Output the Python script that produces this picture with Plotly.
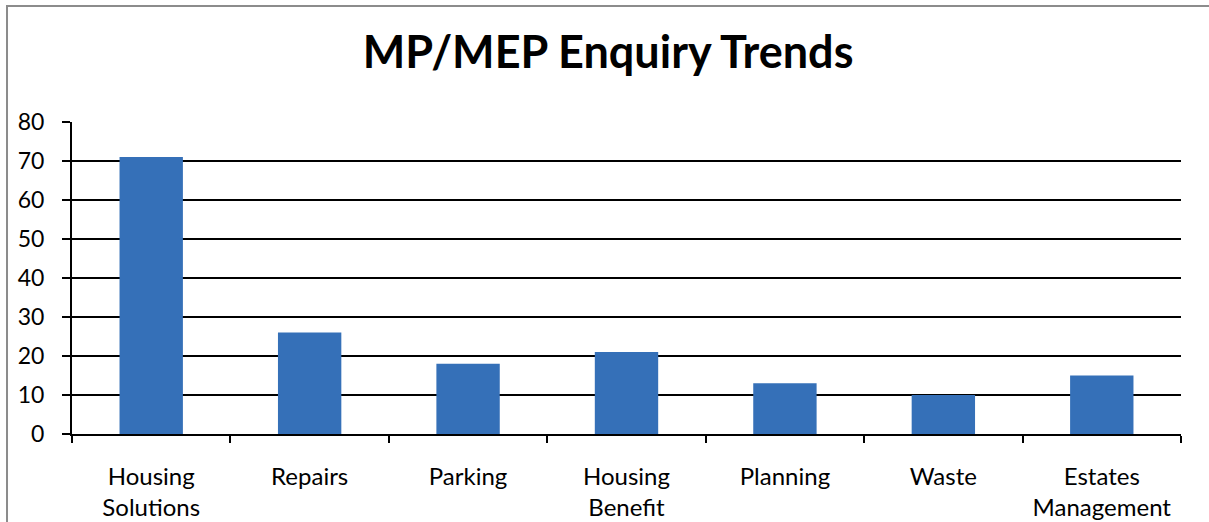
import plotly.graph_objects as go

categories = ["Housing<br>Solutions", "Repairs", "Parking", "Housing<br>Benefit",
              "Planning", "Waste", "Estates<br>Management"]
enquiries = [71, 26, 18, 21, 13, 10, 15]

FONT = "Lato, 'Open Sans', sans-serif"

fig = go.Figure(go.Bar(
    x=categories, y=enquiries,
    marker=dict(color="#3570b8", line=dict(width=0)),
    width=0.4,
))

fig.update_layout(
    width=1209, height=522,
    paper_bgcolor="white", plot_bgcolor="white",
    margin=dict(l=72, r=28, t=122, b=88),
    font=dict(family=FONT, size=23, color="black"),
    title=dict(text="<b>MP/MEP Enquiry Trends</b>", x=0.503, xanchor="center",
               y=0.9, yanchor="middle", font=dict(size=45, family=FONT)),
    showlegend=False,
    xaxis=dict(
        showgrid=False, showline=True, linecolor="black", linewidth=2,
        ticks="outside", tickson="boundaries", ticklen=7, tickwidth=2,
        tickcolor="black", ticklabelstandoff=20, tickfont=dict(size=24),
        automargin=False,
    ),
    yaxis=dict(
        range=[0, 80], dtick=10, showgrid=True, gridcolor="black", gridwidth=2,
        showline=True, linecolor="black", linewidth=2, zeroline=False,
        ticks="outside", ticklen=8, tickwidth=2, tickcolor="black",
        ticklabelstandoff=13, automargin=False,
    ),
    shapes=[dict(
        type="rect", xref="paper", yref="paper",
        x0=-0.0586, x1=1.2, y0=-0.6, y1=1.372,
        line=dict(color="#8c8c8c", width=2), fillcolor="rgba(0,0,0,0)",
        layer="below",
    )],
)

fig.write_html("out.html", config={"displayModeBar": False},
               post_script="document.body.style.margin='0';")
